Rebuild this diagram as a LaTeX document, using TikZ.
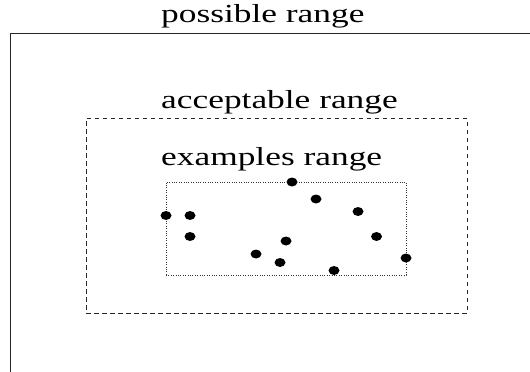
\documentclass[tikz,border=0pt]{standalone}
\usepackage{fontspec}
\setmainfont{Liberation Serif}
\usetikzlibrary{shapes.geometric}
\tikzset{
  lbl/.style={anchor=base west, inner sep=0pt, font=\fontsize{26}{30}\selectfont},
  dot/.style={ellipse, fill=black, draw=none, minimum width=11pt, minimum height=9pt, inner sep=0pt},
  frame/.style={line width=0.9pt, draw=black!85},
  accbox/.style={draw=black!85, line width=0.7pt, dash pattern=on 4.5pt off 3.5pt},
  exbox/.style={draw=black!80, line width=0.7pt, dash pattern=on 1pt off 1.4pt}
}
\newcommand{\wide}[1]{\scalebox{1.36}[1]{#1}}
\begin{document}
\begin{tikzpicture}[x=1pt,y=-1pt]
\useasboundingbox (0,0) rectangle (530,372);
\fill[white] (0,0) rectangle (530,372);
% possible range frame (open)
\coordinate (pbl) at (10,372);
\coordinate (ptl) at (10,33);
\coordinate (ptr) at (530,33);
\draw[frame] (pbl) -- (ptl) -- (ptr);
\node[lbl] (plab) at (161,22) {\wide{possible range}};
% acceptable range
\node[accbox, minimum width=381pt, minimum height=195pt, inner sep=0pt] (acc) at (276.5,215.5) {};
\node[lbl] (alab) at (161,108) {\wide{acceptable range}};
% examples range
\node[exbox, minimum width=240pt, minimum height=93pt, inner sep=0pt] (ex) at (286,228.5) {};
\node[lbl] (elab) at (161,165) {\wide{examples range}};
% dots
\node[dot] (d1) at (166,215.5) {};
\node[dot] (d2) at (190,215.5) {};
\node[dot] (d3) at (190,236.5) {};
\node[dot] (d4) at (292,182) {};
\node[dot] (d5) at (316,199) {};
\node[dot] (d6) at (358,211.5) {};
\node[dot] (d7) at (376.5,236.5) {};
\node[dot] (d8) at (256,254) {};
\node[dot] (d9) at (286,241) {};
\node[dot] (d10) at (280,262.5) {};
\node[dot] (d11) at (334,270.5) {};
\node[dot] (d12) at (406,258) {};
\end{tikzpicture}
\end{document}
